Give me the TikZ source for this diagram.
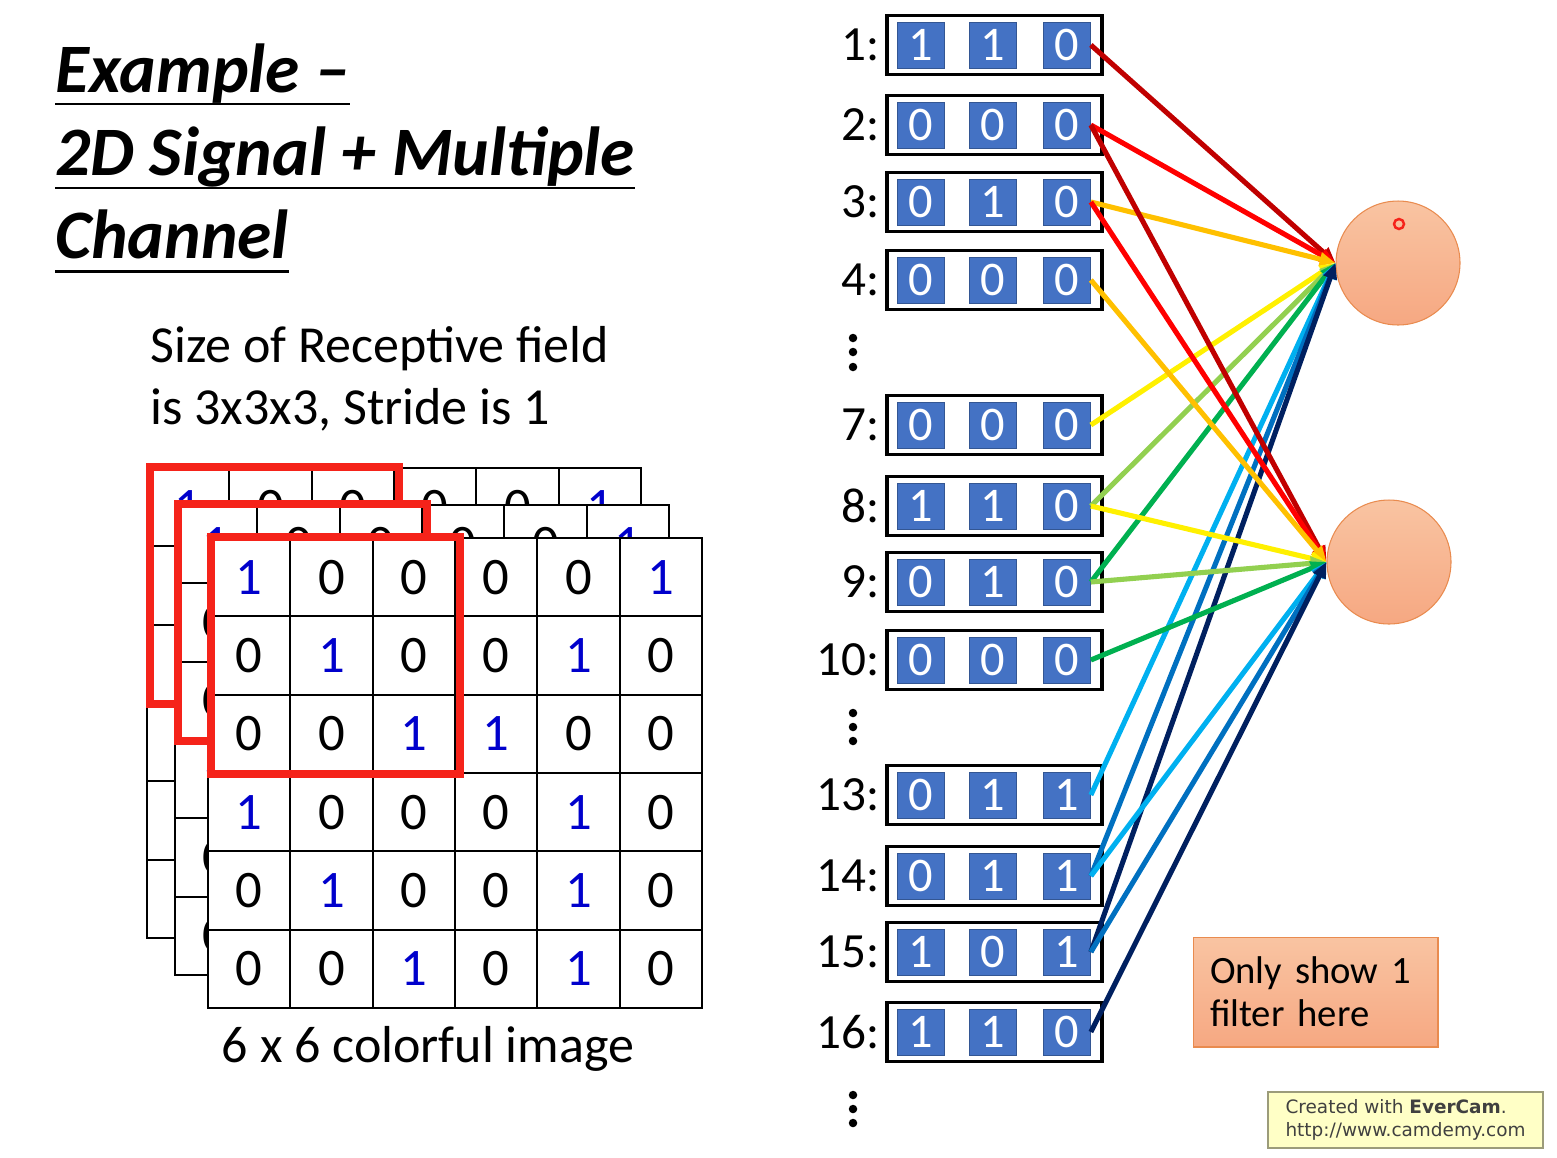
\documentclass[tikz,border=0pt]{standalone}
\usepackage{fontspec}
\setmainfont{Carlito}
\newfontfamily\creditfont{DejaVu Sans}
\usepackage{tikz}
\usetikzlibrary{arrows.meta,positioning,calc}
\definecolor{chanblue}{HTML}{4472C4}
\definecolor{oneblue}{HTML}{0000CC}
\definecolor{framered}{HTML}{F5231A}
\definecolor{darkredline}{HTML}{C00000}
\definecolor{redline}{HTML}{FF0000}
\definecolor{orangeline}{HTML}{FFC000}
\definecolor{yellowline}{HTML}{FFF000}
\definecolor{lgreenline}{HTML}{92D050}
\definecolor{greenline}{HTML}{00B050}
\definecolor{lblueline}{HTML}{00B0F0}
\definecolor{blueline}{HTML}{0070C0}
\definecolor{navyline}{HTML}{002060}
\definecolor{salmontop}{HTML}{F9C4A2}
\definecolor{salmonbot}{HTML}{F6A882}
\definecolor{salmonedge}{HTML}{E98B4F}
\definecolor{creditfill}{HTML}{FFFFC6}
\definecolor{creditedge}{HTML}{9C9C7A}
\definecolor{creditgrey}{HTML}{404040}
\newcommand{\griddigit}[1]{\ifnum#1=1 \textcolor{oneblue}{1}\else 0\fi}
\tikzset{
  titletext/.style={anchor=base west, inner sep=0pt,
    font=\fontsize{39.5}{47}\selectfont\bfseries\itshape},
  titleline/.style={line width=1.7pt},
  bodytext/.style={anchor=base west, inner sep=0pt, font=\fontsize{29.6}{35}\selectfont},
  gridcell/.style={rectangle, draw=black, line width=1pt, fill=white,
    minimum width=1.6466cm, minimum height=1.5666cm, inner sep=0pt,
    font=\fontsize{30}{34}\selectfont},
  redframe/.style={draw=framered, line width=4.6pt},
  rowbox/.style={rectangle, draw=black, line width=2.2pt, fill=white,
    minimum width=4.3cm, minimum height=1.18cm, inner sep=0pt},
  chanbox/.style={rectangle, fill=chanblue, draw=chanblue!75!black, line width=0.4pt,
    minimum width=0.94cm, minimum height=0.92cm, inner sep=0pt,
    text=white, font=\fontsize{27.5}{30}\selectfont},
  rowlabel/.style={inner sep=0pt, font=\fontsize{28}{32}\selectfont},
  neuron/.style={circle, minimum size=2.48cm, inner sep=0pt,
    top color=salmontop, bottom color=salmonbot, draw=salmonedge, line width=0.6pt},
  wire/.style={draw=#1, line width=2.9pt, -{Triangle[length=9pt,width=7.5pt]}},
  notebox/.style={rectangle, draw=salmonedge, line width=0.6pt,
    top color=salmontop, bottom color=salmonbot,
    minimum width=4.9cm, minimum height=2.2cm, inner xsep=0pt,
    text width=4.22cm, align=left, font=\fontsize{22}{24.4}\selectfont},
  creditbox/.style={rectangle, draw=creditedge, line width=0.8pt, fill=creditfill,
    minimum width=5.5cm, minimum height=1.12cm, inner xsep=0pt,
    align=left, text=creditgrey, font=\creditfont\fontsize{10.5}{13}\selectfont}
}

\begin{document}
\begin{tikzpicture}[x=0.02cm, y=-0.02cm]
\useasboundingbox (0,0) rectangle (1557,1157);

% title
\node[titletext] (title1) at (55,92) {Example --};
\node[titletext] (title2) at (55,175) {2D Signal + Multiple};
\node[titletext] (title3) at (55,258) {Channel};
\draw[titleline] ([yshift=-0.24cm]title1.base west) -- ([yshift=-0.24cm]title1.base east);
\draw[titleline] ([yshift=-0.26cm]title2.base west) -- ([yshift=-0.26cm]title2.base east);
\draw[titleline] ([yshift=-0.26cm]title3.base west) -- ([yshift=-0.26cm]title3.base east);

\node[bodytext] (field1) at (150,362) {Size of Receptive field};
\node[bodytext] (field2) at (150,424) {is 3x3x3, Stride is 1};

% three channels of the image, back to front (hidden digits left out)
\foreach \layer/\ox/\oy/\full in {back/147/468/0, mid/175/505/0, front/208/538/1} {
  \foreach \row [count=\ri] in {{1,0,0,0,0,1},{0,1,0,0,1,0},{0,0,1,1,0,0},
                                {1,0,0,0,1,0},{0,1,0,0,1,0},{0,0,1,0,1,0}} {
    \foreach \dig [count=\ci] in \row {
      \node[gridcell] (\layer-\ri-\ci) at ({\ox+(\ci-0.5)*82.33},{\oy+(\ri-0.5)*78.33})
        {\ifnum\full=1 \griddigit{\dig}\else\ifnum\ri=1 \griddigit{\dig}\else
         \ifnum\ci=1 \ifnum\oy=505 \griddigit{\dig}\fi\fi\fi\fi};
    }
  }
  \draw[redframe] ([xshift=0.08cm]\layer-1-1.north west) rectangle ([xshift=0.08cm]\layer-3-3.south east);
}
\node[bodytext, anchor=base] (caption) at (428,1062) {6 x 6 colorful image};

% flattened receptive field
\foreach \n/\y/\chA/\chB/\chC in {1/45/1/1/0, 2/125/0/0/0, 3/202/0/1/0, 4/280/0/0/0,
    7/425/0/0/0, 8/506/1/1/0, 9/582/0/1/0, 10/660/0/0/0,
    13/795/0/1/1, 14/876/0/1/1, 15/952/1/0/1, 16/1032/1/1/0} {
  \node[rowbox] (r\n) at (994.5,\y) {};
  \node[chanbox] (r\n-a) at (921,\y) {\chA};
  \node[chanbox] (r\n-b) at (993,\y) {\chB};
  \node[chanbox] (r\n-c) at (1067,\y) {\chC};
  \node[rowlabel, left=0.11cm of r\n] (lab\n) {\n:};
}
\foreach \y in {338,352,367,713,727,741,1095,1109,1123}
  \fill (853,\y) circle[radius=0.085cm];

% neurons
\node[neuron] (n1) at (1398,263) {};
\node[neuron] (n2) at (1389,562) {};
\draw[framered, line width=1.4pt] (1399,224) circle[radius=0.1cm];

\draw[wire=darkredline] (r1-c.east) -- (n1.west);
\draw[wire=redline] (r2-c.east) -- (n1.west);
\draw[wire=orangeline] (r3-c.east) -- (n1.west);
\draw[wire=yellowline] (r7-c.east) -- (n1.west);
\draw[wire=lgreenline] (r8-c.east) -- (n1.west);
\draw[wire=greenline] (r9-c.east) -- (n1.west);
\draw[wire=lblueline] (r13-c.east) -- (n1.west);
\draw[wire=blueline] (r14-c.east) -- (n1.west);
\draw[wire=navyline] (r15-c.east) -- (n1.west);

\draw[wire=darkredline] (r2-c.east) -- (n2.west);
\draw[wire=redline] (r3-c.east) -- (n2.west);
\draw[wire=orangeline] (r4-c.east) -- (n2.west);
\draw[wire=yellowline] (r8-c.east) -- (n2.west);
\draw[wire=lgreenline] (r9-c.east) -- (n2.west);
\draw[wire=greenline] (r10-c.east) -- (n2.west);
\draw[wire=lblueline] (r14-c.east) -- (n2.west);
\draw[wire=blueline] (r15-c.east) -- (n2.west);
\draw[wire=navyline] (r16-c.east) -- (n2.west);

\node[notebox] (filternote) at (1315.5,992) {Only show 1\\filter here};
\node[creditbox] (credit) at (1405.5,1120) {Created with \textbf{EverCam}.\\http://www.camdemy.com};
\end{tikzpicture}
\end{document}
